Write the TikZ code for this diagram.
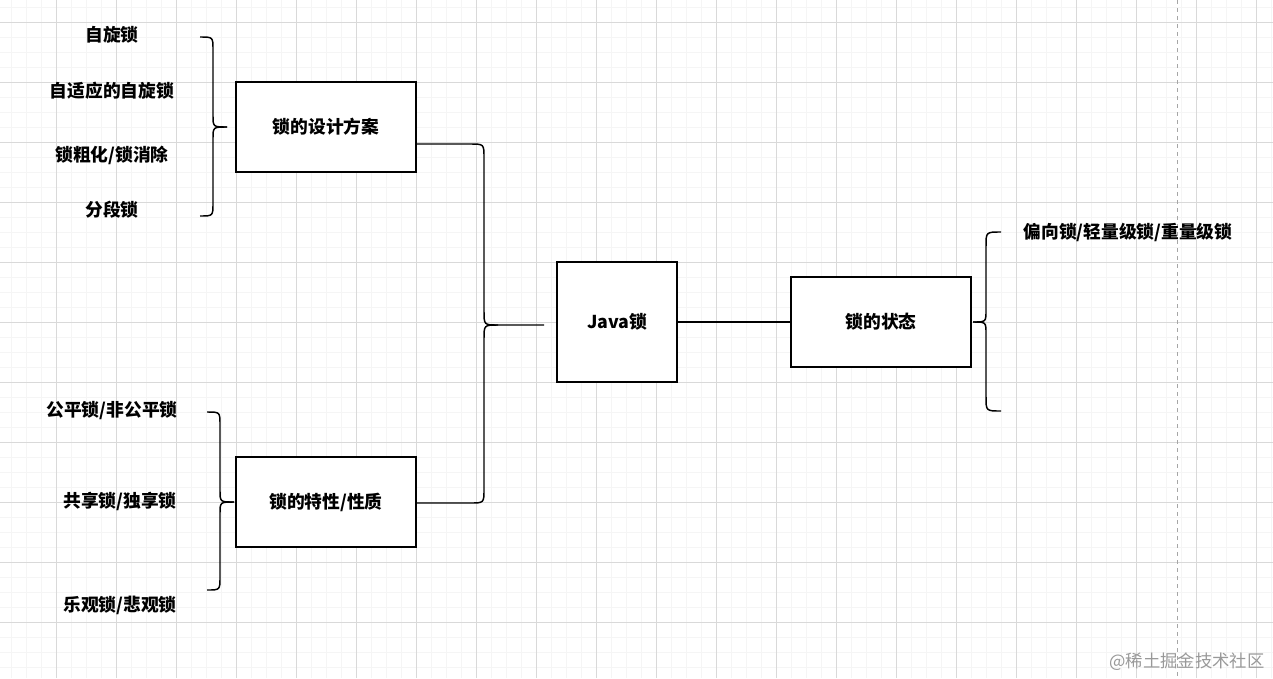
\documentclass[tikz,border=0pt]{standalone}
\usepackage{fontspec}
\setmainfont{Noto Sans CJK SC}
\begin{document}
\begin{tikzpicture}[x=0.75pt,y=-0.75pt,
  box/.style={draw=black,line width=1.2pt,fill=white,minimum width=135pt,minimum height=67.5pt,inner sep=0pt,font=\bfseries\fontsize{13.3}{15}\selectfont},
  lbl/.style={font=\bfseries\fontsize{13.3}{15}\selectfont,inner sep=0pt},
  br/.style={draw=black,line width=1.1pt}]
\useasboundingbox (0,0) rectangle (1273,678);
\fill[white] (0,0) rectangle (1273,678);
\foreach \x in {11,26,...,1273} \draw[black!4,line width=0.4pt] (\x,0) -- (\x,678);
\foreach \y in {7,22,...,678} \draw[black!4,line width=0.4pt] (0,\y) -- (1273,\y);
\foreach \x in {56,116,...,1273} \draw[black!15,line width=0.5pt] (\x,0) -- (\x,678);
\foreach \y in {22,82,...,678} \draw[black!15,line width=0.5pt] (0,\y) -- (1273,\y);
\draw[black!35,dashed,line width=0.6pt] (1177,0) -- (1177,678);

\node[box] (d) at (326,127) {锁的设计方案};
\node[box] (t) at (326,502) {锁的特性/性质};
\node[box,minimum width=90pt,minimum height=90pt] (j) at (617,322) {Java锁};
\node[box] (s) at (881,322) {锁的状态};
\draw[line width=1.1pt] (j.east) -- (s.west);

\coordinate (jt) at (544,325);
\draw[br] (d.east |- 0,144) -- (470,144) .. controls (484,144) .. (484,158) -- (484,311) .. controls (484,325) .. (498,325) -- (jt);
\draw[br] (d.east |- 0,503) -- (470,503) .. controls (484,503) .. (484,489) -- (484,339) .. controls (484,325) .. (498,325);

\draw[br] (200,37) .. controls (213,37) .. (213,50) -- (213,115) .. controls (213,127) .. (227,127);
\draw[br] (200,216) .. controls (213,216) .. (213,203) -- (213,139) .. controls (213,127) .. (227,127);
\draw[br] (207,412) .. controls (220,412) .. (220,425) -- (220,490) .. controls (220,502) .. (234,502);
\draw[br] (207,590) .. controls (220,590) .. (220,577) -- (220,514) .. controls (220,502) .. (234,502);
\draw[br] (1001,232) .. controls (986,232) .. (986,246) -- (986,310) .. controls (986,322) .. (973,322);
\draw[br] (1001,411) .. controls (986,411) .. (986,397) -- (986,334) .. controls (986,322) .. (973,322);

\node[lbl] (a1) at (112,35) {自旋锁};
\node[lbl] (a2) at (112,91) {自适应的自旋锁};
\node[lbl] (a3) at (112,155) {锁粗化/锁消除};
\node[lbl] (a4) at (112,210) {分段锁};
\node[lbl] (b1) at (112,411) {公平锁/非公平锁};
\node[lbl] (b2) at (120,501) {共享锁/独享锁};
\node[lbl] (b3) at (120,605) {乐观锁/悲观锁};
\node[lbl] (c1) at (1128,232) {偏向锁/轻量级锁/重量级锁};
\node[font=\fontsize{13}{15}\selectfont,text=black!40,inner sep=0pt] (w) at (1187,662) {@稀土掘金技术社区};
\end{tikzpicture}
\end{document}
